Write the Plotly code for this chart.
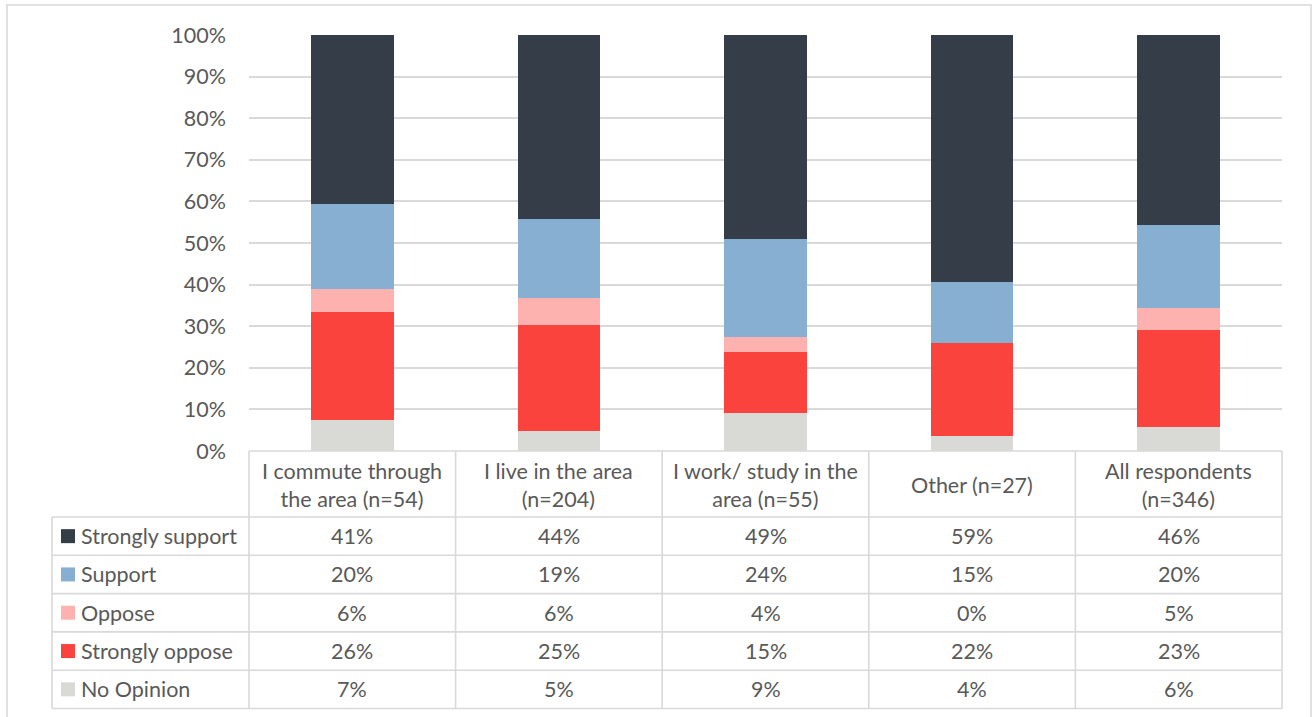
import plotly.graph_objects as go

# Survey responses by respondent group (percent of each group)
groups = [
    "I commute through<br>the area (n=54)",
    "I live in the area<br>(n=204)",
    "I work/ study in the<br>area (n=55)",
    "Other (n=27)",
    "All respondents<br>(n=346)",
]
strongly_support = [40.7, 44.2, 49.1, 59.3, 45.7]
support = [20.4, 19.1, 23.6, 14.8, 19.9]
oppose = [5.6, 6.4, 3.6, 0.0, 5.2]
strongly_oppose = [25.9, 25.4, 14.6, 22.2, 23.4]
no_opinion = [7.4, 4.9, 9.1, 3.7, 5.8]

y_ticks = [0, 10, 20, 30, 40, 50, 60, 70, 80, 90, 100]

# stacking order, bottom to top
series = [
    ("No Opinion", no_opinion, "#d9d9d5"),
    ("Strongly oppose", strongly_oppose, "#f9433c"),
    ("Oppose", oppose, "#fdb2b0"),
    ("Support", support, "#86afd1"),
    ("Strongly support", strongly_support, "#343d48"),
]

FONT = "Lato"
FS = 21.5
TXT = "#595959"
GRID = "#d9d9d9"
W, H = 1314, 717
ML, MR, MT, MB = 249, 32, 35, 266
PW, PH = W - ML - MR, H - MT - MB
XR = (-0.5, len(groups) - 0.5)


def px(xpix):
    return (xpix - ML) / PW


def py(ypix):
    return (H - MB - ypix) / PH


def cat_x(v):
    # category-axis position -> paper fraction
    return (v - XR[0]) / (XR[1] - XR[0])


xs = list(range(len(groups)))
fig = go.Figure()
for name, vals, color in series:
    fig.add_trace(go.Bar(x=xs, y=vals, name=name, marker=dict(color=color, line=dict(width=0)),
                         hoverinfo="name+y"))

shapes = []
annotations = []
line = dict(color=GRID, width=1.6)

# table geometry (pixels)
head_top, head_bot = 451, 517
row_h = 38.3
n_rows = len(series)
rows_bot = head_bot + n_rows * row_h
leg_left = 52

# chart border
shapes.append(dict(type="rect", xref="paper", yref="paper", x0=px(7), x1=px(1311), y0=py(740), y1=py(5),
                   line=dict(color=GRID, width=1.6), layer="below"))

# header top
shapes.append(dict(type="line", xref="paper", yref="paper", x0=cat_x(XR[0]), x1=cat_x(XR[1]),
                   y0=py(head_top), y1=py(head_top), line=line))
# row lines
for r in range(n_rows + 1):
    yy = py(head_bot + r * row_h)
    shapes.append(dict(type="line", xref="paper", yref="paper", x0=px(leg_left), x1=cat_x(XR[1]),
                       y0=yy, y1=yy, line=line))
# column lines
for i in range(len(groups) + 1):
    xx = cat_x(i - 0.5)
    shapes.append(dict(type="line", xref="paper", yref="paper", x0=xx, x1=xx,
                       y0=py(head_top), y1=py(rows_bot), line=line))
shapes.append(dict(type="line", xref="paper", yref="paper", x0=px(leg_left), x1=px(leg_left),
                   y0=py(head_bot), y1=py(rows_bot), line=line))

# header labels
for i, g in enumerate(groups):
    annotations.append(dict(x=i, y=py((head_top + head_bot) / 2 + 1), xref="x", yref="paper", text=g,
                            showarrow=False, font=dict(family=FONT, size=FS, color=TXT),
                            xanchor="center", yanchor="middle", align="center"))

# table rows: top row is the top of the stack
for r, (name, vals, color) in enumerate(reversed(series)):
    yc = head_bot + (r + 0.5) * row_h
    shapes.append(dict(type="rect", xref="paper", yref="paper", x0=px(61), x1=px(75),
                       y0=py(yc + 7), y1=py(yc - 7), fillcolor=color, line=dict(width=0)))
    annotations.append(dict(x=px(79), y=py(yc), xref="paper", yref="paper", text=name,
                            showarrow=False, font=dict(family=FONT, size=FS, color=TXT),
                            xanchor="left", yanchor="middle"))
    for i, v in enumerate(vals):
        annotations.append(dict(x=i, y=py(yc), xref="x", yref="paper", text=f"{v:.0f}%",
                                showarrow=False, font=dict(family=FONT, size=FS, color=TXT),
                                xanchor="center", yanchor="middle"))

fig.update_layout(
    barmode="stack",
    bargap=0.6,
    width=W, height=H,
    margin=dict(l=ML, r=MR, t=MT, b=MB, pad=0),
    paper_bgcolor="white", plot_bgcolor="white",
    showlegend=False,
    shapes=shapes,
    annotations=annotations,
    xaxis=dict(range=list(XR), showticklabels=False, showgrid=False, zeroline=False,
               showline=False, ticks="", fixedrange=True),
    yaxis=dict(range=[0, 100], tickvals=y_ticks, ticktext=[f"{t}%" for t in y_ticks],
               showgrid=True, gridcolor=GRID, gridwidth=1.6, zeroline=False, showline=False,
               ticks="", ticklabelstandoff=22, fixedrange=True,
               tickfont=dict(family=FONT, size=FS, color=TXT)),
    font=dict(family=FONT, color=TXT),
)

fig.write_html("out.html")
